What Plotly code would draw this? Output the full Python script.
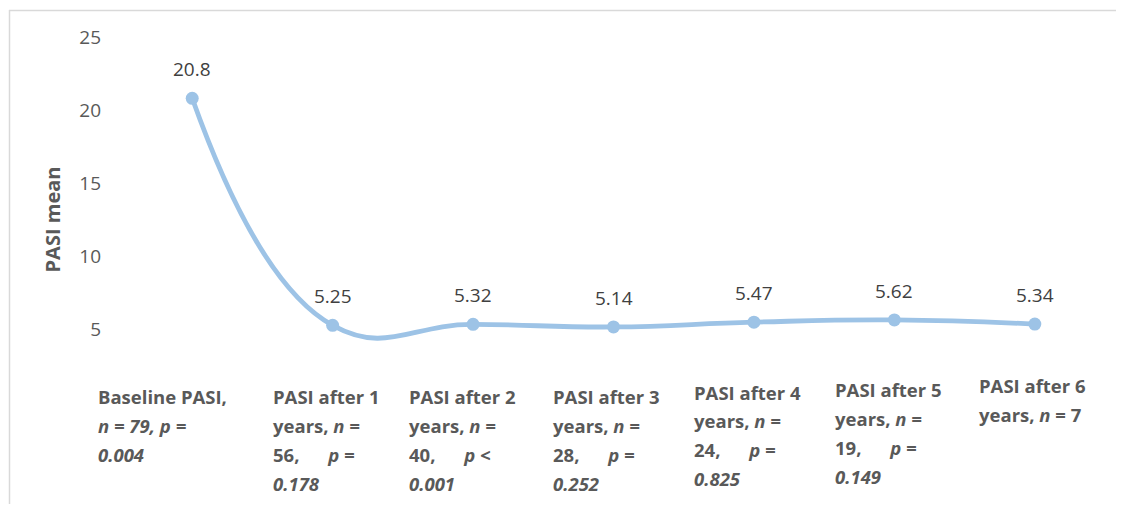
import plotly.graph_objects as go

# ---- data ----
categories = ["Baseline PASI", "PASI after 1 years", "PASI after 2 years", "PASI after 3 years",
              "PASI after 4 years", "PASI after 5 years", "PASI after 6 years"]
pasi_mean = [20.8, 5.25, 5.32, 5.14, 5.47, 5.62, 5.34]
value_labels = ["20.8", "5.25", "5.32", "5.14", "5.47", "5.62", "5.34"]
NB = "\u00a0"
category_lines = [
    ["Baseline PASI,", "<i>n = 79, p =</i>", "<i>0.004</i>"],
    ["PASI after 1", "years, <i>n =</i>", "56," + NB * 6 + "<i>p =</i>", "<i>0.178</i>"],
    ["PASI after 2", "years, <i>n =</i>", "40," + NB * 6 + "<i>p <</i>", "<i>0.001</i>"],
    ["PASI after 3", "years, <i>n =</i>", "28," + NB * 6 + "<i>p =</i>", "<i>0.252</i>"],
    ["PASI after 4", "years, <i>n =</i>", "24," + NB * 6 + "<i>p =</i>", "<i>0.825</i>"],
    ["PASI after 5", "years, <i>n =</i>", "19," + NB * 6 + "<i>p =</i>", "<i>0.149</i>"],
    ["PASI after 6", "years, <i>n</i> = 7"],
]
y_ticks = [5, 10, 15, 20, 25]

# ---- layout geometry (page pixels; page has an 8px body offset) ----
OFF = 8
W, H = 1124 - 2 * OFF, 512 - 2 * OFF
L, T = 122 - OFF, 37 - OFF
R = W - (1105 - OFF)
B = H - (402 - OFF)
plot_h = H - T - B
plot_w = W - L - R
def py(p):
    return (H - B - (p - OFF)) / plot_h
def px(p):
    return ((p - OFF) - L) / plot_w

label_left_shift = [-96, -62, -66, -63, -62, -61, -58]
label_first_row = [396, 396, 396, 396, 392, 389, 385]
row_step = 29

line_color = "#9DC3E6"
FONT = "Open Sans, sans-serif"

fig = go.Figure()
x_idx = list(range(len(categories)))
fig.add_trace(go.Scatter(
    x=x_idx, y=pasi_mean, mode="lines+markers",
    line=dict(color=line_color, width=4.8, shape="spline", smoothing=1.3),
    marker=dict(color=line_color, size=13),
    hoverinfo="skip", cliponaxis=False,
))

annotations = []
for i, (v, t) in enumerate(zip(pasi_mean, value_labels)):
    annotations.append(dict(x=i, y=v, xref="x", yref="y", text=t, showarrow=False,
                            yshift=29, font=dict(family=FONT, size=19, color="#404040")))

for i, lines in enumerate(category_lines):
    for j, ln in enumerate(lines):
        annotations.append(dict(
            x=i, xref="x", y=py(label_first_row[i] + j * row_step), yref="paper",
            text="<b>" + ln + "</b>", showarrow=False, xanchor="left", yanchor="middle",
            xshift=label_left_shift[i], align="left",
            font=dict(family=FONT, size=18.5, color="#595959")))

fig.update_layout(
    width=W, height=H,
    margin=dict(l=L, r=R, t=T, b=B, autoexpand=False),
    paper_bgcolor="white", plot_bgcolor="white",
    showlegend=False,
    annotations=annotations,
    xaxis=dict(range=[-0.5, 6.5], showticklabels=False, showgrid=False, zeroline=False,
               showline=False, fixedrange=True),
    yaxis=dict(range=[0, 25], tickvals=y_ticks, ticktext=[str(v) for v in y_ticks],
               showgrid=False, zeroline=False, showline=False, ticks="",
               ticklabelstandoff=20,
               tickfont=dict(family=FONT, size=19, color="#595959"),
               title=dict(text="<b>PASI mean</b>", standoff=13,
                          font=dict(family=FONT, size=20, color="#595959"))),
    shapes=[
        dict(type="line", xref="paper", yref="paper", x0=px(9), x1=px(1300), y0=py(10.5), y1=py(10.5),
             line=dict(color="#D9D9D9", width=1.5)),
        dict(type="line", xref="paper", yref="paper", x0=px(9.5), x1=px(9.5), y0=py(10), y1=py(700),
             line=dict(color="#D9D9D9", width=1.5)),
    ],
)

fig.write_html("out.html")
